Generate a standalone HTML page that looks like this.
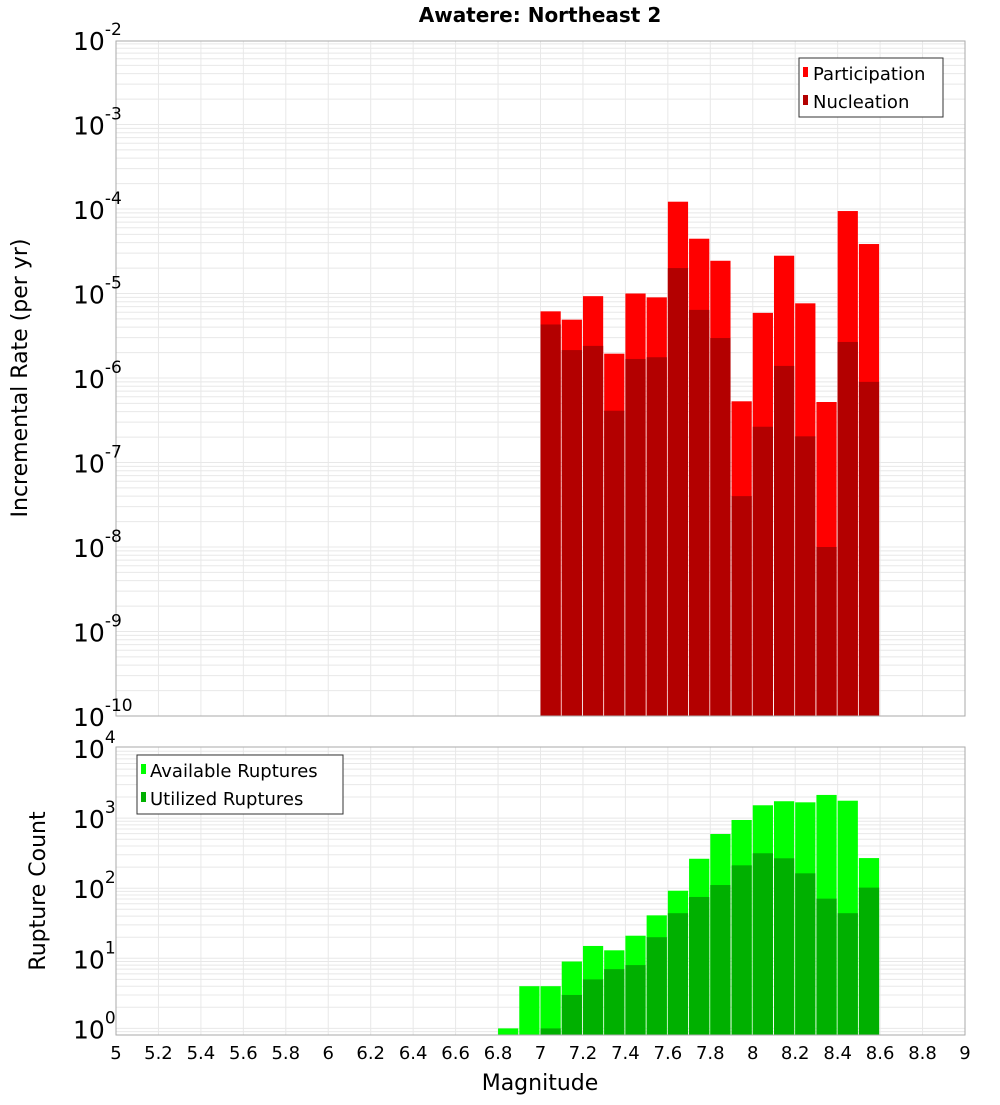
<!DOCTYPE html>
<html><head><meta charset="utf-8"><style>
body{margin:0;background:#fff}
svg text{font-family:"DejaVu Sans","Liberation Sans",sans-serif}
</style></head><body>
<svg id="chart" width="1000" height="1100" xmlns="http://www.w3.org/2000/svg">
<text x="540" y="22" text-anchor="middle" font-size="20" font-weight="bold">Awatere: Northeast 2</text>
<g id="top"></g>
<g id="bot"></g>
<text transform="translate(27,378) rotate(-90)" text-anchor="middle" font-size="22">Incremental Rate (per yr)</text>
<text transform="translate(45,891) rotate(-90)" text-anchor="middle" font-size="22">Rupture Count</text>
<text x="540" y="1090" text-anchor="middle" font-size="22">Magnitude</text>
<g>
<rect x="799" y="58" width="144" height="59" fill="#fff" stroke="#333" stroke-width="1"/>
<rect x="803" y="67" width="5" height="10" fill="#ff0000"/>
<text x="813" y="80" font-size="18">Participation</text>
<rect x="803" y="95" width="5" height="10" fill="#b30000"/>
<text x="813" y="108" font-size="18">Nucleation</text>
</g>
<g>
<rect x="137" y="755" width="206" height="59" fill="#fff" stroke="#333" stroke-width="1"/>
<rect x="141" y="764" width="5" height="10" fill="#00ff00"/>
<text x="150" y="777" font-size="18">Available Ruptures</text>
<rect x="141" y="792" width="5" height="10" fill="#00b000"/>
<text x="150" y="805" font-size="18">Utilized Ruptures</text>
</g>
</svg>
<script>
const mags = [7.0,7.1,7.2,7.3,7.4,7.5,7.6,7.7,7.8,7.9,8.0,8.1,8.2,8.3,8.4,8.5];
const participation = [6.15e-6,4.9e-6,9.3e-6,1.94e-6,1.0e-5,9.0e-6,1.22e-4,4.45e-5,2.44e-5,5.3e-7,5.9e-6,2.8e-5,7.65e-6,5.2e-7,9.46e-5,3.85e-5];
const nucleation = [4.3e-6,2.14e-6,2.4e-6,4.1e-7,1.68e-6,1.76e-6,2.0e-5,6.4e-6,2.97e-6,4.0e-8,2.65e-7,1.39e-6,2.04e-7,1.0e-8,2.67e-6,9.0e-7];
const countMags = [6.8,6.9,7.0,7.1,7.2,7.3,7.4,7.5,7.6,7.7,7.8,7.9,8.0,8.1,8.2,8.3,8.4,8.5];
const available = [1,4,4,9,15,13,21,41,92,263,593,940,1524,1740,1679,2140,1770,269];
const utilized = [0,0,1,3,5,7,8,20,44,75,111,212,315,267,163,71,44,102];
const xTicks = [5,5.2,5.4,5.6,5.8,6,6.2,6.4,6.6,6.8,7,7.2,7.4,7.6,7.8,8,8.2,8.4,8.6,8.8,9];
const topDecades = [-2,-3,-4,-5,-6,-7,-8,-9,-10];
const botDecades = [4,3,2,1,0];

const NS="http://www.w3.org/2000/svg";
const L=116,R=965;
const xs=m=>L+(m-5)*(R-L)/4;
const yTop=v=>40+(-2-Math.log10(v))*84.5;
const yBot=v=>748+(4-Math.log10(v))*70.1;
function mk(p,t,a){const e=document.createElementNS(NS,t);for(const k in a)e.setAttribute(k,a[k]);p.appendChild(e);return e;}
function plot(g,top,bot,ys,lo,hi){
  mk(g,'rect',{x:L,y:top,width:R-L,height:bot-top,fill:'#fff'});
  for(let d=lo;d<hi;d++)for(let k=1;k<10;k++){const y=ys(k*Math.pow(10,d));if(y>=top&&y<=bot){const ln=mk(g,'line',{x1:L,x2:R,y1:y,y2:y,stroke:'#e8e8e8','stroke-width':1});}}
  xTicks.forEach(t=>{const ln=mk(g,'line',{x1:xs(t),x2:xs(t),y1:top,y2:bot,stroke:'#e8e8e8','stroke-width':1});});
}
const gt=document.getElementById('top'),gb=document.getElementById('bot');
plot(gt,41,716,yTop,-10,-2);
plot(gb,747,1035,yBot,-1,4);
const w=(R-L)/40-1;
mags.forEach((m,i)=>{
  const p=mk(gt,'rect',{x:xs(m),y:yTop(participation[i]),width:w,height:716-yTop(participation[i]),fill:'#ff0000'});
  
  const n=mk(gt,'rect',{x:xs(m),y:yTop(nucleation[i]),width:w,height:716-yTop(nucleation[i]),fill:'#b30000'});
  
});
countMags.forEach((m,i)=>{
  const a=mk(gb,'rect',{x:xs(m),y:yBot(available[i]),width:w,height:1035-yBot(available[i]),fill:'#00ff00'});
  
  if(utilized[i]>0){const u=mk(gb,'rect',{x:xs(m),y:yBot(utilized[i]),width:w,height:1035-yBot(utilized[i]),fill:'#00b000'});
  }
});
mk(gt,'rect',{x:L,y:41,width:R-L,height:675,fill:'none',stroke:'#aaa','stroke-width':1});
mk(gb,'rect',{x:L,y:747,width:R-L,height:288,fill:'none',stroke:'#aaa','stroke-width':1});
function ylab(g,d,y){
  const t=mk(g,'text',{x:73,y:y+10,'font-size':25});
  
  t.textContent='10';
  const s=mk(t,'tspan',{dy:-15,'font-size':17});s.textContent=String(d);
}
topDecades.forEach(d=>ylab(gt,d,yTop(Math.pow(10,d))));
botDecades.forEach(d=>ylab(gb,d,yBot(Math.pow(10,d))));
xTicks.forEach(t=>{const e=mk(gb,'text',{x:xs(t),y:1059,'text-anchor':'middle','font-size':18});
  
  e.textContent=String(t);});
</script>
</body></html>
